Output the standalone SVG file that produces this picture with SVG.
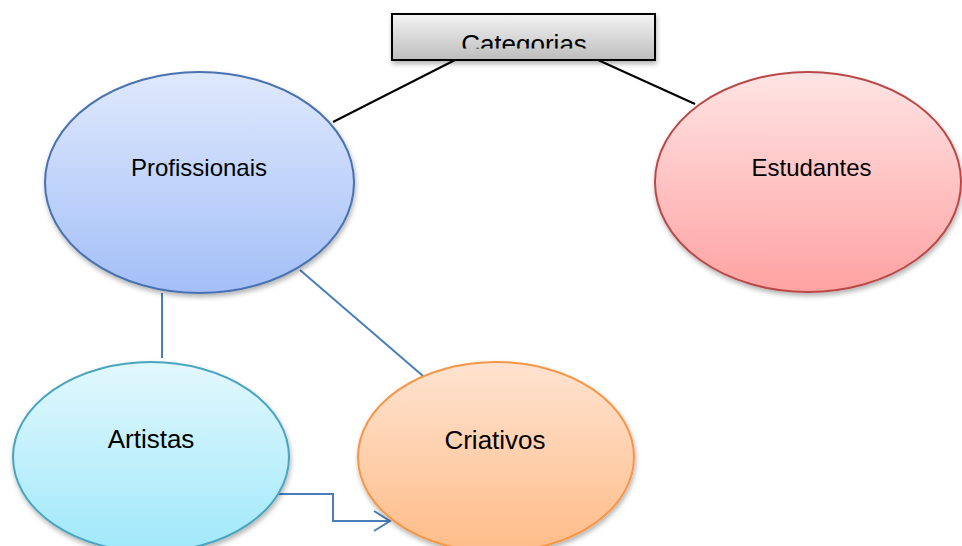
<svg xmlns="http://www.w3.org/2000/svg" width="962" height="546" viewBox="0 0 962 546">
<defs>
<linearGradient id="gBlue" x1="0" y1="0" x2="0" y2="1"><stop offset="0" stop-color="#dfe9fd"/><stop offset="1" stop-color="#a3bff7"/></linearGradient>
<linearGradient id="gRed" x1="0" y1="0" x2="0" y2="1"><stop offset="0" stop-color="#ffe4e4"/><stop offset="1" stop-color="#ffa2a2"/></linearGradient>
<linearGradient id="gCyan" x1="0" y1="0" x2="0" y2="1"><stop offset="0" stop-color="#e2f8fd"/><stop offset="1" stop-color="#a0e8fa"/></linearGradient>
<linearGradient id="gOrange" x1="0" y1="0" x2="0" y2="1"><stop offset="0" stop-color="#ffe3d0"/><stop offset="1" stop-color="#ffbc88"/></linearGradient>
<linearGradient id="gGray" x1="0" y1="0" x2="0" y2="1"><stop offset="0" stop-color="#f4f4f4"/><stop offset="1" stop-color="#bdbdbd"/></linearGradient>
<filter id="sh" x="-10%" y="-10%" width="125%" height="130%"><feDropShadow dx="1" dy="3" stdDeviation="2.5" flood-color="#000" flood-opacity="0.3"/></filter>
<clipPath id="cbox"><rect x="392" y="14" width="263" height="34.5"/></clipPath>
<marker id="arr" markerWidth="20" markerHeight="24" refX="17" refY="11" orient="auto" markerUnits="userSpaceOnUse"><path d="M1,1 L17,11 L1,21" fill="none" stroke="#4a7ebb" stroke-width="2"/></marker>
</defs>
<style>
text{font-family:"Liberation Sans",Arial,sans-serif;fill:#000;text-anchor:middle}
.lb{stroke:#000;stroke-width:2;fill:none}
.lu{stroke:#4a7ebb;stroke-width:2;fill:none}
</style>
<g id="connectors">
<line class="lb" x1="455" y1="60" x2="333" y2="122"/>
<line class="lb" x1="598" y1="60" x2="695" y2="104"/>
<line class="lu" x1="162" y1="293" x2="162" y2="358"/>
<line class="lu" x1="300" y1="270" x2="423" y2="376"/>
<polyline class="lu" points="277,494 333,494 333,521 390,521" marker-end="url(#arr)"/>
</g>
<g id="categorias">
<rect x="392" y="14" width="263" height="46" fill="url(#gGray)" stroke="#000" stroke-width="2" filter="url(#sh)"/>
<text x="524" y="53" font-size="26" clip-path="url(#cbox)">Categorias</text>
</g>
<g id="profissionais">
<ellipse cx="199.5" cy="182.5" rx="154.5" ry="110.5" fill="url(#gBlue)" stroke="#4a72b0" stroke-width="2" filter="url(#sh)"/>
<text x="199" y="176" font-size="24">Profissionais</text>
</g>
<g id="estudantes">
<ellipse cx="808" cy="182" rx="153" ry="110" fill="url(#gRed)" stroke="#b94a48" stroke-width="2" filter="url(#sh)"/>
<text x="811.5" y="176" font-size="24">Estudantes</text>
</g>
<g id="artistas">
<ellipse cx="151" cy="457" rx="138" ry="95" fill="url(#gCyan)" stroke="#4aa5c0" stroke-width="2" filter="url(#sh)"/>
<text x="151" y="448" font-size="26">Artistas</text>
</g>
<g id="criativos">
<ellipse cx="496" cy="457" rx="138" ry="95" fill="url(#gOrange)" stroke="#f79646" stroke-width="2" filter="url(#sh)"/>
<text x="495" y="449" font-size="26">Criativos</text>
</g>
</svg>
